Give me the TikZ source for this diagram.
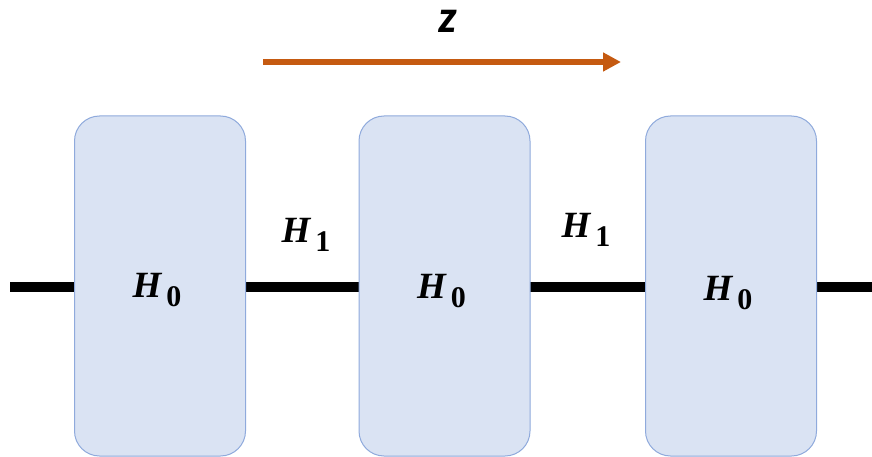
\documentclass[tikz,border=0pt]{standalone}
\usepackage{fontspec}
\newfontfamily\zfont{Carlito}
\newfontfamily\hfont{Liberation Serif}
\usetikzlibrary{arrows.meta}
\definecolor{boxfill}{HTML}{DAE3F3}
\definecolor{boxdraw}{HTML}{8FAADC}
\definecolor{arrorange}{HTML}{C55A11}
\newcommand{\hlab}[1]{{\itshape H}\hspace{5pt}\raisebox{-9pt}{\upshape\fontsize{30}{32}\selectfont #1}}
\tikzset{
  hbox/.style={draw=boxdraw, fill=boxfill, line width=1pt, rounded corners=25pt,
    minimum width=171pt, minimum height=340pt, inner sep=0pt, outer sep=0pt},
  hlabel/.style={font=\hfont\bfseries\fontsize{37}{42}\selectfont, inner sep=0pt, anchor=base},
  beam/.style={line width=10pt, black},
  zarrow/.style={line width=5.5pt, arrorange, -{Triangle[length=18pt,width=18pt]}},
  zlabel/.style={font=\zfont\bfseries\itshape\fontsize{46}{50}\selectfont, inner sep=0pt, anchor=base},
}
\begin{document}
\begin{tikzpicture}[x=1pt,y=-1pt]
\useasboundingbox (0,0) rectangle (872,457);
\coordinate (lstart) at (10,287);
\coordinate (lend) at (872,287);
\draw[beam] (lstart) -- (lend);
\node[hbox] (b1) at (160,286) {};
\node[hbox] (b2) at (444.5,286) {};
\node[hbox] (b3) at (731,286) {};
\node[hlabel] (h01) at (157,297) {\hlab{0}};
\node[hlabel] (h02) at (441.5,298) {\hlab{0}};
\node[hlabel] (h03) at (728,300) {\hlab{0}};
\node[hlabel] (h11) at (306,242) {\hlab{1}};
\node[hlabel] (h12) at (586,237) {\hlab{1}};
\coordinate (as) at (263,62);
\coordinate (ae) at (621,62);
\draw[zarrow] (as) -- (ae);
\node[zlabel] (zl) at (448,33) {z};
\end{tikzpicture}
\end{document}
